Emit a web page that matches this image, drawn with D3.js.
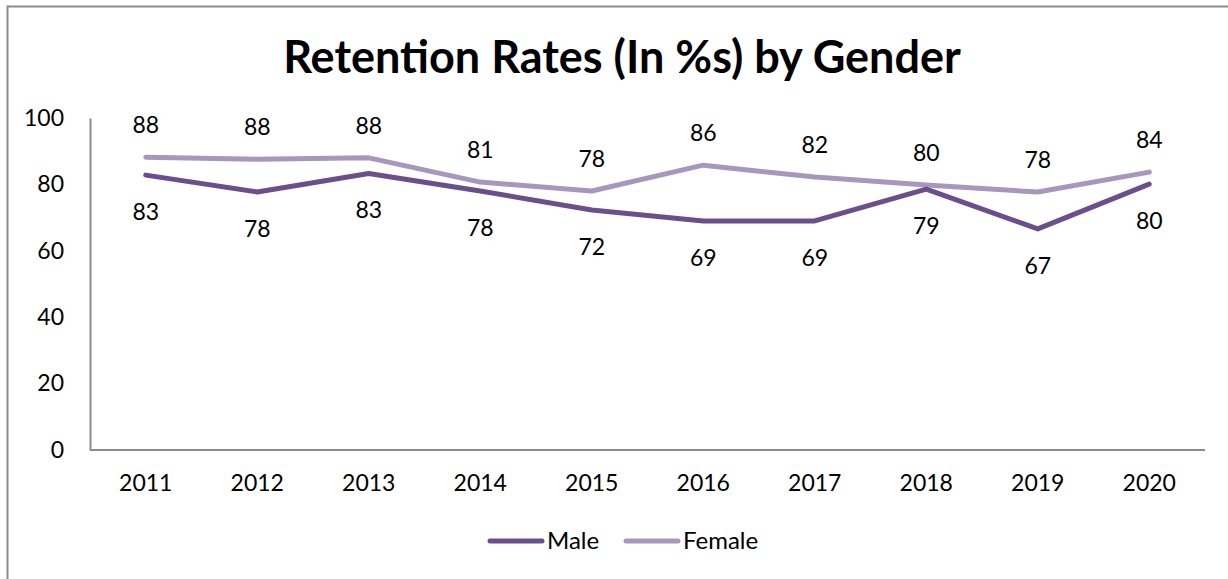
<!DOCTYPE html>
<html>
<head>
<meta charset="utf-8">
<script src="https://cdn.jsdelivr.net/npm/d3@7/dist/d3.min.js"></script>
<style>
  html, body { margin: 0; padding: 0; background: #fff; }
  svg { display: block; }
  text { font-family: Lato, "Open Sans", sans-serif; fill: #000; }
</style>
</head>
<body>
<script>
const years = ["2011","2012","2013","2014","2015","2016","2017","2018","2019","2020"];
const maleValues = [82.8, 77.7, 83.3, 78.0, 72.3, 69.0, 69.0, 78.6, 66.6, 80.1];
const femaleValues = [88.2, 87.6, 88.0, 80.7, 78.0, 85.8, 82.2, 79.8, 77.7, 83.7];
const maleLabels = ["83","78","83","78","72","69","69","79","67","80"];
const femaleLabels = ["88","88","88","81","78","86","82","80","78","84"];
const yTicks = [0, 20, 40, 60, 80, 100];
const seriesNames = ["Male", "Female"];
const seriesColors = ["#6a4f8c", "#a797bd"];

const W = 1228, H = 579;
const svg = d3.select("body").append("svg").attr("width", W).attr("height", H);

// outer chart border
svg.append("rect").attr("x", 7.5).attr("y", 6.5).attr("width", W + 10).attr("height", H + 10)
  .attr("fill", "none").attr("stroke", "#8c8c8c").attr("stroke-width", 2);

const plotLeft = 90, plotRight = 1205, plotTop = 118, plotBottom = 450;
const x = d3.scaleBand().domain(years).range([plotLeft, plotRight]);
const y = d3.scaleLinear().domain([0, 100]).range([plotBottom, plotTop]);

// title
svg.append("text").attr("x", 622).attr("y", 73).attr("text-anchor", "middle")
  .attr("font-size", 45).attr("font-weight", "bold").text("Retention Rates (In %s) by Gender");

// y axis
const yAxis = svg.append("g").attr("transform", `translate(${plotLeft},0)`)
  .call(d3.axisLeft(y).tickValues(yTicks).tickSize(0).tickPadding(26));
yAxis.select(".domain").attr("stroke", "#8c8c8c").attr("stroke-width", 2);
yAxis.selectAll("text").attr("font-size", 23).attr("font-family", "Lato, sans-serif");

// x axis
const xAxis = svg.append("g").attr("transform", `translate(0,${plotBottom})`)
  .call(d3.axisBottom(x).tickSize(0).tickPadding(25));
xAxis.select(".domain").attr("stroke", "#8c8c8c").attr("stroke-width", 2).attr("d", `M${plotLeft},0H${plotRight}`);
xAxis.selectAll("text").attr("font-size", 23).attr("font-family", "Lato, sans-serif");

const cx = d => x(d) + x.bandwidth() / 2;
const line = d3.line().x((d, i) => cx(years[i])).y(d => y(d));

const series = [
  { name: "Male", values: maleValues, labels: maleLabels, color: seriesColors[0], dy: 37 },
  { name: "Female", values: femaleValues, labels: femaleLabels, color: seriesColors[1], dy: -32 }
];

// draw female first so male is on top
[series[1], series[0]].forEach(s => {
  svg.append("path").datum(s.values).attr("d", line)
    .attr("fill", "none").attr("stroke", s.color).attr("stroke-width", 5)
    .attr("stroke-linecap", "round").attr("stroke-linejoin", "round");
});

series.forEach(s => {
  svg.append("g").selectAll("text").data(s.values).join("text")
    .attr("x", (d, i) => cx(years[i]))
    .attr("y", d => y(d) + s.dy)
    .attr("dy", "0.35em")
    .attr("text-anchor", "middle").attr("font-size", 23)
    .text((d, i) => s.labels[i]);
});

// legend
const legendItems = [
  { name: "Male", color: seriesColors[0], x: 490 },
  { name: "Female", color: seriesColors[1], x: 626 }
];
const lg = svg.append("g");
legendItems.forEach(it => {
  lg.append("line").attr("x1", it.x).attr("x2", it.x + 52).attr("y1", 541).attr("y2", 541)
    .attr("stroke", it.color).attr("stroke-width", 5).attr("stroke-linecap", "round");
  lg.append("text").attr("x", it.x + 57).attr("y", 541).attr("dy", "0.35em")
    .attr("font-size", 24).text(it.name);
});
</script>
</body>
</html>
